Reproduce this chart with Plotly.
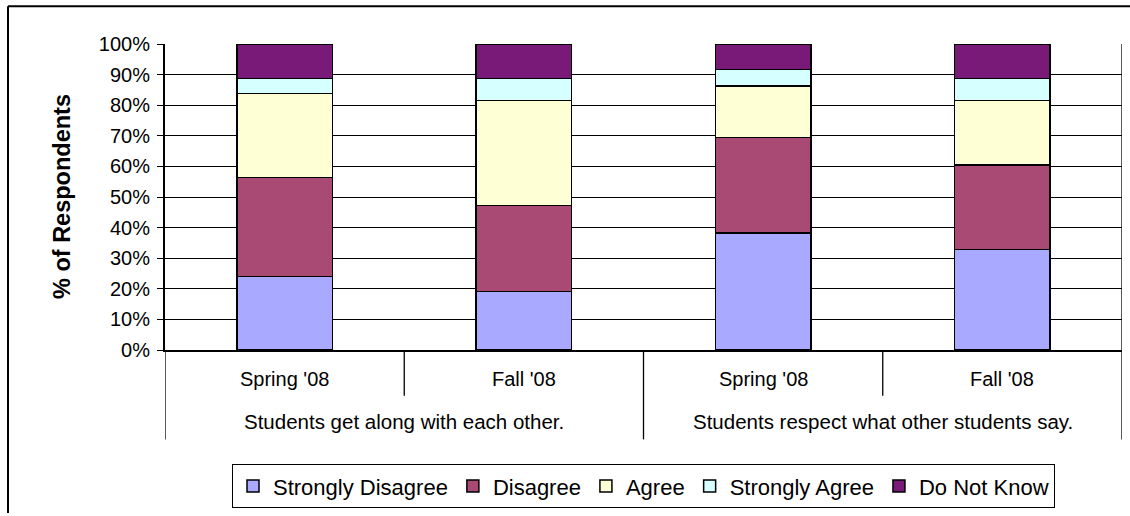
import plotly.graph_objects as go

# Survey responses, % of respondents per response, for each statement/term
terms = ["Spring '08", "Fall '08", "Spring '08", "Fall '08"]
statements = ["Students get along with each other.", "Students respect what other students say."]

strongly_disagree = [24.0, 19.1, 38.2, 32.9]
disagree = [32.3, 28.2, 31.3, 27.6]
agree = [27.5, 34.2, 16.7, 21.0]
strongly_agree = [4.9, 7.3, 5.5, 7.3]
do_not_know = [11.3, 11.2, 8.3, 11.2]

series_names = ["Strongly Disagree", "Disagree", "Agree", "Strongly Agree", "Do Not Know"]
series_values = [strongly_disagree, disagree, agree, strongly_agree, do_not_know]
series_colors = ["#a9a9ff", "#a94a74", "#ffffd6", "#d6ffff", "#7a1a78"]

y_ticks = list(range(0, 101, 10))
y_tick_labels = [f"{v}%" for v in y_ticks]

FONT = "Arial, Liberation Sans, sans-serif"

W, H = 1130, 516
L, R, T, B = 165, 8, 44, 164
plot_w = W - L - R
plot_h = H - T - B


def px_x(p):
    """Pixel x -> paper x."""
    return (p - L) / plot_w


def px_y(p):
    """Pixel y -> paper y."""
    return (H - B - p) / plot_h


x_pos = list(range(len(terms)))

fig = go.Figure()
for name, vals, color in zip(series_names, series_values, series_colors):
    fig.add_trace(go.Bar(
        x=x_pos, y=vals, name=name, width=0.4,
        marker=dict(color=color, line=dict(color="black", width=1.5)),
    ))

shapes = []
# Category axis dividers: short ones between terms, tall ones between statements
for xv, bottom in [(-0.5, 442), (0.5, 398), (1.5, 442), (2.5, 398), (3.5, 442)]:
    top = 44 if xv == 3.5 else 352
    shapes.append(dict(type="line", xref="x", yref="paper",
                       x0=xv, x1=xv, y0=px_y(top), y1=px_y(bottom),
                       line=dict(color="black", width=1.3)))
# Outer chart frame (left and top edges)
shapes.append(dict(type="line", xref="paper", yref="paper",
                   x0=px_x(8), x1=px_x(8), y0=px_y(6), y1=px_y(516),
                   line=dict(color="black", width=2)))
shapes.append(dict(type="line", xref="paper", yref="paper",
                   x0=px_x(8), x1=px_x(1130), y0=px_y(6), y1=px_y(6),
                   line=dict(color="black", width=2)))

annotations = []
for xv, t in zip(x_pos, terms):
    annotations.append(dict(x=xv, y=px_y(381), xref="x", yref="paper", text=t,
                            xanchor="center", yanchor="middle", showarrow=False,
                            font=dict(family=FONT, size=20, color="black")))
for i, s in enumerate(statements):
    annotations.append(dict(x=2 * i + 0.5, y=px_y(424), xref="x", yref="paper", text=s,
                            xanchor="center", yanchor="middle", showarrow=False,
                            font=dict(family=FONT, size=20.5, color="black")))
annotations.append(dict(x=px_x(62), y=0.5, xref="paper", yref="paper",
                        xanchor="center", yanchor="middle",
                        text="<b>% of Respondents</b>", textangle=-90, showarrow=False,
                        font=dict(family=FONT, size=23.5, color="black")))

fig.update_layout(
    width=W, height=H,
    margin=dict(l=L, r=R, t=T, b=B),
    barmode="stack",
    paper_bgcolor="white", plot_bgcolor="white",
    font=dict(family=FONT, color="black"),
    xaxis=dict(range=[-0.5, 3.5], showticklabels=False, ticks="",
               showgrid=False, zeroline=False,
               showline=True, linecolor="black", linewidth=2, mirror=False),
    yaxis=dict(range=[0, 100], tickvals=y_ticks, ticktext=y_tick_labels,
               ticks="outside", ticklen=6, tickcolor="black", tickwidth=1.3,
               ticklabelstandoff=3,
               showgrid=True, gridcolor="black", gridwidth=1.4,
               zeroline=False, showline=True, linecolor="black", linewidth=2,
               tickfont=dict(family=FONT, size=20, color="black")),
    legend=dict(orientation="h", x=0.5, xanchor="center", y=px_y(467), yanchor="top",
                bordercolor="black", borderwidth=1, bgcolor="white",
                font=dict(family=FONT, size=22, color="black"),
                itemwidth=30, traceorder="normal"),
    shapes=shapes,
    annotations=annotations,
)

fig.write_html("out.html")
